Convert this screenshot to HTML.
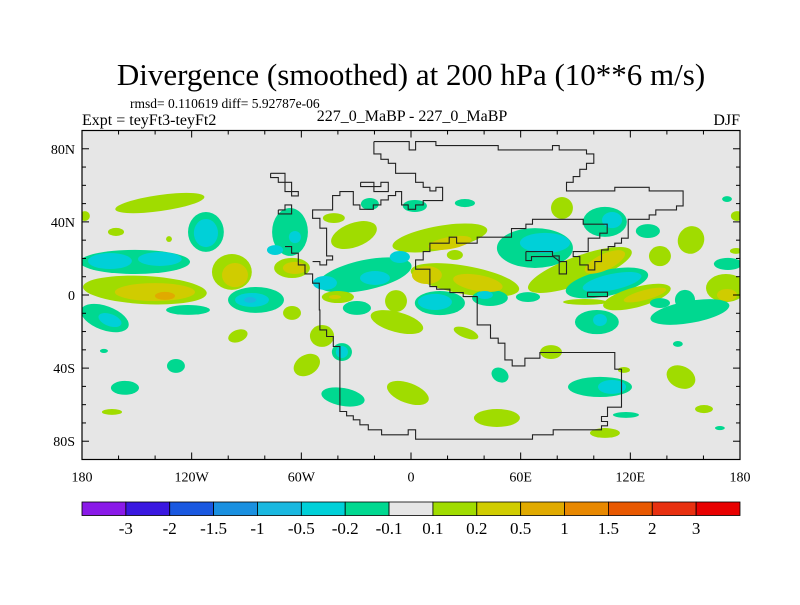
<!DOCTYPE html>
<html><head><meta charset="utf-8"><style>
body{margin:0;background:#fff;}
text{font-family:"Liberation Serif","Times New Roman",serif !important;fill:#000;}
</style></head><body>
<svg id="chart" width="800" height="600" viewBox="0 0 800 600" xmlns="http://www.w3.org/2000/svg" font-family="Liberation Serif, serif">
<rect width="800" height="600" fill="#fff"/>
<text font-family="Liberation Serif, serif" x="411" y="85" text-anchor="middle" font-size="31">Divergence (smoothed) at 200 hPa (10**6 m/s)</text>
<text font-family="Liberation Serif, serif" x="130" y="108" font-size="13.5">rmsd= 0.110619 diff= 5.92787e-06</text>
<text font-family="Liberation Serif, serif" x="82" y="125" font-size="16">Expt = teyFt3-teyFt2</text>
<text font-family="Liberation Serif, serif" x="412" y="121" text-anchor="middle" font-size="16">227_0_MaBP - 227_0_MaBP</text>
<text font-family="Liberation Serif, serif" x="740" y="125" text-anchor="end" font-size="16">DJF</text>
<defs><clipPath id="plotclip"><rect x="82" y="130.5" width="658" height="329"/></clipPath></defs>
<rect x="82" y="130.5" width="658" height="329" fill="#e6e6e6"/>
<g id="blobs" clip-path="url(#plotclip)"></g>
<g id="coast" clip-path="url(#plotclip)"></g>
<g id="axes"></g>
<g id="cbar"></g>
</svg>
<script>
// ---- data ----
const blobLon=[-137.4,-178.4,-161.4,-132.4,-112.2,-151,-145.6,-122,-167.5,-98,-84.8,-65.1,-66.2,-94.7,-168,-128.6,-156.5,-163.6,-65.1,-57,-37.2,-48.7,-37.8,-42.2,-31.2,-25.2,-40,-29.6,-8.2,-7.7,15.8,24,-22.5,2.1,29.5,29.5,15.8,43.2,30.1,64,67.8,82.6,106.1,129.6,92.4,107.2,123.6,95.2,101.7,136.2,136.2,153.2,172.9,178.3,177.8,173.4,172.3,152.6,149.9,146,147.7,160.3,169,103.4,117.6,106.1,116.5,76.6,48.7,-1.7,47,
-112.2,-164.7,-137.4,-140.1,-164.7,-96.3,-87,-63.5,-63.5,-74.4,-6.1,-19.7,-47.1,-41.6,-37.8,21.3,8.7,36.6,13.1,40.4,73.3,110,106.1,110,128,103.4,172.9,110,-134.6,-88];
const blobLat=[50.3,43.2,34.5,30.6,34.5,18.1,2.7,-8.2,-12.6,12.6,-2.7,14.8,34.5,-22.4,-30.6,-38.8,-50.8,-64,-9.8,-38.3,-55.8,-22.4,-31.2,42.1,32.8,10.9,-1.1,-7.1,-3.3,-14.8,31.2,21.9,49.8,48.7,50.3,8.2,-4.4,-1.6,-20.8,-1.1,25.7,47.6,40,35,13.7,6.6,-1.1,-3.8,-14.8,-4.4,21.3,30.1,52.5,43.2,24.1,17,3.8,-9.3,-2.7,-26.8,-44.9,-62.4,-72.8,-50.3,-65.6,-75.5,-41,-31.2,-43.8,-53.6,-67.3,
33.9,18.6,19.7,1.6,-13.7,10.9,-2.7,14.8,31.7,24.6,20.8,9.3,6.6,-1.1,-31.2,28.5,10.9,6.6,-3.8,0,28.5,41,18.1,7.1,0,-13.7,0,-50.3,-0.5,-2.7];
const blobRx=[24.6,2.7,4.4,1.6,9.8,30.1,33.9,12,13.7,10.9,15.3,9.8,9.8,5.5,2.2,4.9,7.7,5.5,4.9,7.7,12,6.6,5.5,6,13.1,26,8.8,7.7,6,14.8,26.3,4.4,4.9,6.6,5.5,30.1,13.7,9.8,7.1,6.6,20.8,6,12,6.6,30.1,23,19.1,12,12,5.5,6,7.1,2.7,3.3,3.3,7.7,10.9,21.9,5.5,2.7,8.2,4.9,2.7,17.5,7.1,8.2,3.3,6,4.9,12,12.6,
6.6,12,12,21.9,6.6,7.1,9.3,6.6,3.3,4.4,5.5,8.2,6.6,3.3,3.3,12,8.2,13.7,9.3,4.4,13.7,5.5,12,16.4,12,3.8,5.5,7.7,5.5,3.3];
const blobRy=[4.4,2.7,2.2,1.6,10.9,6.6,7.7,2.7,6.6,9.8,7.1,5.5,13.1,3.3,1.1,3.8,3.8,1.6,3.8,5.5,4.9,6,4.9,2.7,6.6,8.2,3.3,3.8,6,5.5,6.6,2.7,3.3,3.3,2.2,7.7,6.6,4.4,2.7,2.7,10.9,6,8.2,3.8,7.7,7.1,5.5,1.6,6.6,2.7,5.5,7.7,1.6,2.7,1.6,3.3,7.7,6,5.5,1.6,6,2.2,1.1,5.5,1.6,2.7,1.6,3.8,3.8,5.5,4.9,
7.7,4.4,3.8,4.9,3.3,6.6,3.8,3.3,3.3,2.7,3.3,3.8,3.8,1.1,3.3,3.3,4.9,4.4,4.4,2.2,5.5,4.4,4.4,4.4,2.7,3.3,3.3,3.8,2.2,1.6];
const blobRot=[-8,0,0,0,0,0,3,0,20,0,0,0,0,-20,0,0,0,0,0,-30,10,0,0,0,-20,-12,0,0,0,15,-10,0,0,0,0,10,0,0,20,0,0,0,0,0,-20,-12,-15,0,0,0,0,30,0,0,0,0,0,-10,0,0,25,0,0,0,0,0,0,0,30,20,0,
0,0,0,0,20,0,0,0,0,0,0,0,0,0,0,-10,0,10,0,0,0,0,-25,-12,-15,0,0,0,0,0];
const blobVal=[0.15,0.15,0.15,0.15,-0.15,-0.15,0.15,-0.15,-0.15,0.15,-0.15,0.15,-0.15,0.15,-0.15,-0.15,-0.15,0.15,0.15,0.15,-0.15,0.15,-0.15,0.15,0.15,-0.15,0.15,-0.15,0.15,0.15,0.15,0.15,-0.15,-0.15,-0.15,0.15,-0.15,-0.15,0.15,-0.15,-0.15,0.15,-0.15,-0.15,0.15,-0.15,0.15,0.15,-0.15,-0.15,0.15,0.15,-0.15,0.15,0.15,-0.15,0.15,-0.15,-0.15,-0.15,0.15,0.15,-0.15,-0.15,-0.15,0.15,0.15,0.15,-0.15,0.15,0.15,
-0.3,-0.3,-0.3,0.3,-0.3,0.3,-0.3,0.3,-0.3,-0.3,-0.3,-0.3,-0.3,0.3,-0.3,0.3,0.3,0.3,-0.3,-0.3,-0.3,-0.3,0.3,-0.3,0.3,-0.3,0.3,-0.3,0.7,-0.7];
const levelBounds=[-3,-2,-1.5,-1,-0.5,-0.2,-0.1,0.1,0.2,0.5,1,1.5,2,3];
const levelLabels=["-3","-2","-1.5","-1","-0.5","-0.2","-0.1","0.1","0.2","0.5","1","1.5","2","3"];
const levelColors=["#8a1ae8","#3a18e0","#1a58e0","#1a90e0","#1ab8e0","#00d0d8","#00d890","#e6e6e6","#a0dc00","#d0cc00","#e0aa00","#e88800","#e85800","#e83010","#e80000"];
const lonTicks=[-180,-120,-60,0,60,120,180];
const lonLabels=["180","120W","60W","0","60E","120E","180"];
const latTicks=[80,40,0,-40,-80];
const latLabels=["80N","40N","0","40S","80S"];
// coastlines on the 227 Ma model grid (grid units)
const coastA=[[372,35],[478,35],[478,60],[497,60],[497,35],[558,35],[558,47],[745,47],[745,60],[908,60],[908,47],[928,47],[928,60],[1010,60],[1010,72],[1032,72],[1032,100],[1010,100],[1010,118],[990,118],[990,140],[970,140],[970,157],[950,157],[950,183],[1095,183],[1095,172],[1198,172],[1198,183],[1300,183],[1300,228],[1280,228],[1280,240],[1218,240],[1218,255],[1198,255],[1198,268],[1135,268],[1135,325],[1115,325],[1115,340],[1095,340],[1095,350],[1075,350],[1075,360],[1055,360],[1055,395],[1035,395],[1035,420],[1015,420],[1015,405],[990,405],[990,380],[970,380],[970,365],[1015,365],[1015,325],[1050,325],[1050,310],[1072,310],[1072,283],[1000,283],[1000,268],[848,268],[848,283],[828,283],[828,296],[785,296],[785,322],[682,322],[682,340],[620,340],[620,322],[598,322],[598,340],[540,340],[540,365],[520,365],[520,390],[497,390],[497,418],[540,418],[540,470],[560,470],[560,478],[600,478],[600,488],[640,488],[640,500],[682,500],[682,585],[722,585],[722,625],[745,625],[745,640],[765,640],[765,690],[787,690],[787,708],[825,708],[825,685],[870,685],[870,668],[1095,668],[1095,718],[1115,718],[1115,832],[1073,832],[1073,860],[1055,860],[1055,875],[1073,875],[1073,888],[1055,888],[1055,900],[910,900],[910,915],[848,915],[848,928],[497,928],[497,900],[475,900],[475,915],[395,915],[395,900],[355,900],[355,885],[330,885],[330,870],[310,870],[310,858],[290,858],[290,845],[270,845],[270,650],[250,650],[250,620],[230,620],[230,600],[210,600],[210,540],[208,540],[208,460],[188,460],[188,432],[165,432],[165,405],[145,405],[145,370],[125,370],[125,350],[105,350]];
const coastB=[[188,395],[210,395],[210,405],[230,405],[230,390],[248,390],[248,378],[230,378],[230,295],[210,295],[210,265],[188,265],[188,240],[248,240],[248,197],[270,197],[270,185],[310,185],[310,225],[330,225],[330,238],[370,238],[370,225],[393,225],[393,210],[415,210],[415,197],[437,197],[437,185],[455,185],[455,225],[475,225],[475,238],[497,238],[497,225],[520,225],[520,212],[578,212],[578,172],[558,172],[558,183],[540,183],[540,172],[520,172],[520,157],[497,157],[497,130],[437,130],[437,100],[415,100],[415,88],[393,88],[393,72],[372,72],[372,35]];
const coastC=[[62,130],[105,130],[105,157],[125,157],[125,185],[145,185],[145,198],[125,198],[125,185],[105,185],[105,157],[85,157],[85,143],[62,143],[62,130]];
const coastD=[[85,240],[105,240],[105,225],[125,225],[125,252],[85,252],[85,240]];
const coastE=[[332,157],[372,157],[372,170],[393,170],[393,157],[415,157],[415,185],[372,185],[372,170],[332,170],[332,157]];
const coastF=[[828,365],[908,365],[908,378],[928,378],[928,432],[950,432],[950,395],[930,395],[910,380],[845,380],[845,392],[828,392],[828,365]];
const coastG=[[1013,487],[1073,487],[1073,500],[1013,500],[1013,487]];
const coastLines=[coastA,coastB,coastC,coastD,coastE,coastF,coastG];

// ---- axes functions ----
const X0=82,X1=740,Y0=130.5,Y1=459.5;
function xOf(lon){return X0+(lon+180)/360*(X1-X0);}
function yOf(lat){return Y0+(90-lat)/180*(Y1-Y0);}
function degX(d){return d/360*(X1-X0);}
function degY(d){return d/180*(Y1-Y0);}
function gridLon(g){return g*0.1823-88.1;}
function gridLat(g){return 90.3-g*0.1823;}
function colorOf(v){let i=0;while(i<levelBounds.length&&v>levelBounds[i])i++;return levelColors[i];}
const NS="http://www.w3.org/2000/svg";
function mk(tag,attrs,parent){const e=document.createElementNS(NS,tag);for(const k in attrs)e.setAttribute(k,attrs[k]);parent.appendChild(e);return e;}

// ---- contour fills ----
const gB=document.getElementById('blobs');
const order=blobVal.map((v,i)=>i).sort((a,b)=>Math.abs(blobVal[a])-Math.abs(blobVal[b]));
order.forEach(i=>{
  const cx=xOf(blobLon[i]),cy=yOf(blobLat[i]);
  const e=mk('ellipse',{cx:cx,cy:cy,rx:degX(blobRx[i]),ry:degY(blobRy[i]),fill:colorOf(blobVal[i]),transform:'rotate('+blobRot[i]+' '+cx+' '+cy+')'},gB);
  
  
});

// ---- coastlines ----
const gC=document.getElementById('coast');
coastLines.forEach(line=>{
  const pts=line.map(p=>xOf(gridLon(p[0])).toFixed(1)+','+yOf(gridLat(p[1])).toFixed(1)).join(' ');
  const e=mk('polyline',{points:pts,fill:'none',stroke:'#222','stroke-width':1.1},gC);
  
  
});

// ---- axes ----
const gA=document.getElementById('axes');
const frame=mk('rect',{x:X0,y:Y0,width:X1-X0,height:Y1-Y0,fill:'none',stroke:'#000','stroke-width':1.2},gA);


for(let lon=-180;lon<=180;lon+=20){
  const major=(lon%60===0),L=major?7:4,x=xOf(lon);
  const t1=mk('line',{x1:x,y1:Y1,x2:x,y2:Y1-L,stroke:'#000','stroke-width':1},gA);
  
  
  const t2=mk('line',{x1:x,y1:Y0,x2:x,y2:Y0+L,stroke:'#000','stroke-width':1},gA);
  
  
}
for(let lat=-90;lat<=90;lat+=10){
  const major=(lat%40===0),L=major?7:4,y=yOf(lat);
  const t1=mk('line',{x1:X0,y1:y,x2:X0+L,y2:y,stroke:'#000','stroke-width':1},gA);
  
  
  const t2=mk('line',{x1:X1,y1:y,x2:X1-L,y2:y,stroke:'#000','stroke-width':1},gA);
  
  
}
lonTicks.forEach((lon,i)=>{
  const t=mk('text',{x:xOf(lon),y:Y1+22,'text-anchor':'middle','font-size':14,'font-family':'Liberation Serif, serif'},gA);
  t.textContent=lonLabels[i];
  
  
});
latTicks.forEach((lat,i)=>{
  const t=mk('text',{x:X0-7,y:yOf(lat)+5,'text-anchor':'end','font-size':14,'font-family':'Liberation Serif, serif'},gA);
  t.textContent=latLabels[i];
  
  
});

// ---- colorbar ----
const gK=document.getElementById('cbar');
const bw=(X1-X0)/levelColors.length;
levelColors.forEach((c,i)=>{
  const r=mk('rect',{x:X0+i*bw,y:502,width:bw,height:13.5,fill:c,stroke:'#000','stroke-width':0.8},gK);
  
  
});
levelLabels.forEach((s,i)=>{
  const t=mk('text',{x:X0+(i+1)*bw,y:534,'text-anchor':'middle','font-size':17,'font-family':'Liberation Serif, serif'},gK);
  t.textContent=s;
  
  
});
</script>
</body></html>
